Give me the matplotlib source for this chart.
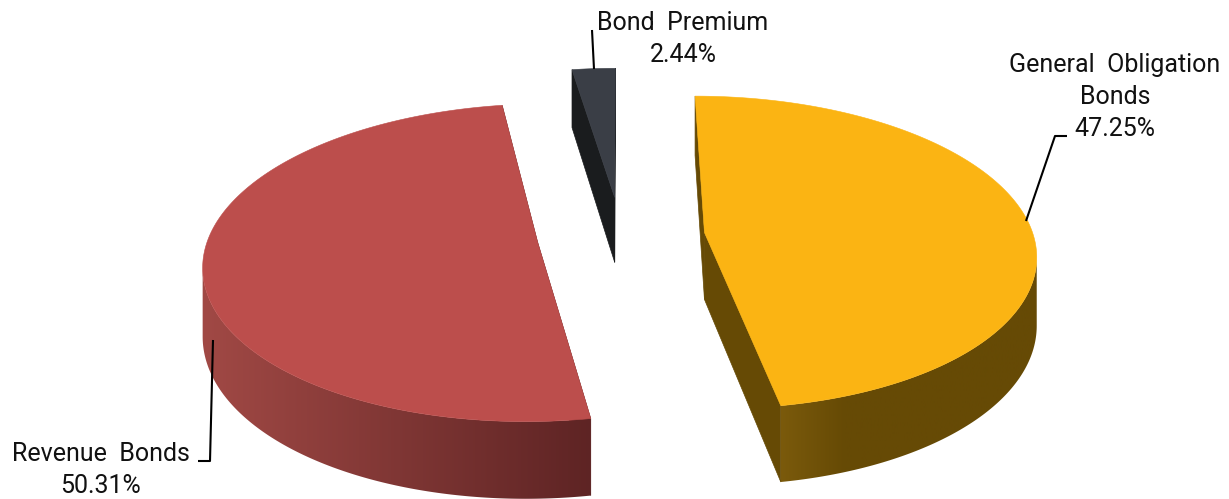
import numpy as np
import matplotlib.pyplot as plt
from matplotlib.colors import LinearSegmentedColormap
from matplotlib.patches import Polygon

plt.rcParams["font.family"] = ["Roboto", "DejaVu Sans"]

labels = ["General  Obligation\nBonds", "Revenue  Bonds", "Bond  Premium"]
shares = [47.25, 50.31, 2.44]

explode = [84, 84, 85]
top_colors = ["#fbb413", "#bc4e4c", "#3a3e46"]
side_colors = ["#664a05", "#5e2424", "#1a1c1e"]
wall_ramps = [["#7c5b0c", "#664a05", "#664a05", "#664a05", "#664a05"], ["#a34a46", "#5e2424"], ["#1a1c1e", "#1a1c1e"]]
wall_spans = [(776, 1050), (190, 592), (560, 620)]

cx, cy = 621, 236
radius = 329
tilt = 0.47
persp = 0.000386
depth = 67


def project(X, Y, down=0.0):
    s = 1 / (1 + persp * Y)
    return cx + X * s, cy - Y * tilt * s + down * s


fig = plt.figure(figsize=(12.29, 4.99), dpi=100)
ax = fig.add_axes([0, 0, 1, 1])
ax.axis("off")

edges = np.cumsum([0] + shares) / sum(shares) * 2 * np.pi
for i in range(len(shares)):
    a0, a1 = edges[i], edges[i + 1]
    mid = (a0 + a1) / 2
    ox, oy = explode[i] * np.sin(mid), explode[i] * np.cos(mid)
    th = np.linspace(a0, a1, 240)
    rimX = ox + radius * np.sin(th)
    rimY = oy + radius * np.cos(th)

    # radial walls first, the rim and the top go over them
    for a in (a0, a1):
        tipX, tipY = ox + radius * np.sin(a), oy + radius * np.cos(a)
        quad = [project(ox, oy), project(tipX, tipY), project(tipX, tipY, depth), project(ox, oy, depth)]
        ax.add_patch(Polygon(quad, fc=side_colors[i], ec=side_colors[i], lw=0.5))

    upper = [project(x, y) for x, y in zip(rimX, rimY)]
    lower = [project(x, y, depth) for x, y in zip(rimX, rimY)]

    # rim wall: only the part facing the viewer, horizontal gradient clipped to it
    front = [j for j in range(len(th) - 1) if upper[j + 1][0] < upper[j][0]]
    if front:
        ramp = LinearSegmentedColormap.from_list("ramp", wall_ramps[i])
        x0, x1 = wall_spans[i]
        front = front + [front[-1] + 1]
        band = Polygon([upper[j] for j in front] + [lower[j] for j in front[::-1]], fc="none", ec="none")
        ax.add_patch(band)
        im = ax.imshow(np.linspace(0, 1, 256).reshape(1, -1), cmap=ramp, extent=(x0, x1, 499, 0), aspect="auto", zorder=1.5)
        im.set_clip_path(band)

    top = [project(ox, oy)] + upper
    ax.add_patch(Polygon(top, fc=top_colors[i], ec=top_colors[i], lw=0.4, zorder=2 + i))

# data labels with leader lines
text_pos = [(1115, 97), (101, 470), (683, 39)]
leaders = [[(1067, 136), (1055, 136), (1026, 221)], [(198, 461), (210, 461), (213, 340)], [(592, 30), (594, 69)]]
for name, share, (tx, ty), line in zip(labels, shares, text_pos, leaders):
    ax.text(tx, ty, f"{name}\n{share:.2f}%", ha="center", va="center", fontsize=18, color="#111111", linespacing=1.4, zorder=6)
    ax.plot(*zip(*line), color="black", lw=1.5, solid_capstyle="butt", zorder=6)

ax.set_xlim(0, 1229)
ax.set_ylim(499, 0)
fig.savefig("out.png", dpi=100)
